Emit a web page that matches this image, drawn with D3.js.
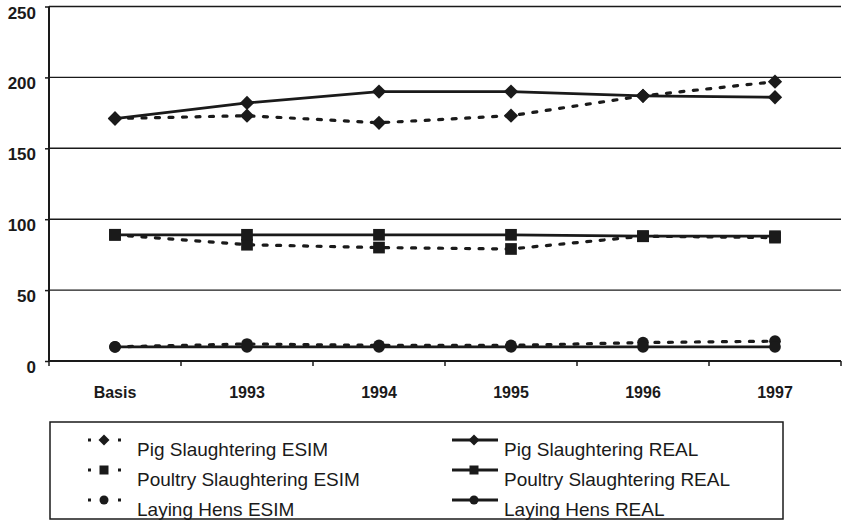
<!DOCTYPE html>
<html>
<head>
<meta charset="utf-8">
<script src="https://cdn.jsdelivr.net/npm/d3@7"></script>
<style>
  html, body { margin: 0; padding: 0; background: #fff; }
  svg { display: block; font-family: "Liberation Sans", Arial, Helvetica, sans-serif; }
</style>
</head>
<body>
<svg id="chart" width="843" height="523"></svg>
<script>
const categories = ["Basis", "1993", "1994", "1995", "1996", "1997"];
const pigESIM = [171, 173, 168, 173, 187, 197];
const pigREAL = [171, 182, 190, 190, 187, 186];
const poultryESIM = [89, 82, 80, 79, 88, 87];
const poultryREAL = [89, 89, 89, 89, 88, 88];
const layingESIM = [10, 12, 11, 11, 13, 14];
const layingREAL = [10, 10, 10, 10, 10, 10];
const yTicks = [0, 50, 100, 150, 200, 250];

const series = [
  { name: "Pig Slaughtering ESIM", values: pigESIM, marker: "diamond", dashed: true },
  { name: "Poultry Slaughtering ESIM", values: poultryESIM, marker: "square", dashed: true },
  { name: "Laying Hens ESIM", values: layingESIM, marker: "circle", dashed: true },
  { name: "Pig Slaughtering REAL", values: pigREAL, marker: "diamond", dashed: false },
  { name: "Poultry Slaughtering REAL", values: poultryREAL, marker: "square", dashed: false },
  { name: "Laying Hens REAL", values: layingREAL, marker: "circle", dashed: false }
];

const ink = "#1a1a1a";
const svg = d3.select("#chart");

const x = d3.scaleBand().domain(categories).range([49, 841]).paddingInner(0).paddingOuter(0);
const y = d3.scaleLinear().domain([0, 250]).range([361, 6.5]);
const cx = c => x(c) + x.bandwidth() / 2;

// gridlines
svg.append("g").selectAll("line").data(yTicks.filter(d => d > 0)).join("line")
  .attr("x1", 49).attr("x2", 841)
  .attr("y1", d => y(d)).attr("y2", d => y(d))
  .attr("stroke", ink).attr("stroke-width", 1.4);

// y axis
const yAxis = d3.axisLeft(y).tickValues(yTicks).tickSize(4).tickPadding(9).tickFormat(d3.format("d"));
const gy = svg.append("g").attr("transform", "translate(49,0)").call(yAxis);
gy.select(".domain").attr("stroke", ink).attr("stroke-width", 2).attr("d", `M0,${y(250)}V${y(0)}`);
gy.selectAll(".tick line").attr("stroke", ink).attr("stroke-width", 1.5);
gy.selectAll(".tick text").attr("fill", ink).attr("dy", "0.68em")
  .style("font-size", "17px").style("font-weight", "bold");

// x axis
const gx = svg.append("g").attr("transform", `translate(0,${y(0)})`);
gx.append("line").attr("x1", 49).attr("x2", 841).attr("y1", 0).attr("y2", 0)
  .attr("stroke", ink).attr("stroke-width", 2);
const boundaries = categories.map(c => x(c)).concat([x(categories[categories.length - 1]) + x.bandwidth()]);
gx.selectAll("line.tk").data(boundaries).join("line").attr("class", "tk")
  .attr("x1", d => d).attr("x2", d => d).attr("y1", 0).attr("y2", 5)
  .attr("stroke", ink).attr("stroke-width", 1.5);
gx.selectAll("text").data(categories).join("text")
  .attr("x", d => cx(d)).attr("y", 37)
  .attr("text-anchor", "middle").attr("fill", ink)
  .style("font-size", "16px").style("font-weight", "bold")
  .text(d => d);

function drawMarker(g, type, px, py, s) {
  if (type === "diamond") {
    g.append("path").attr("d", `M${px},${py - s * 0.55}L${px + s * 0.55},${py}L${px},${py + s * 0.55}L${px - s * 0.55},${py}Z`).attr("fill", ink);
  } else if (type === "square") {
    g.append("rect").attr("x", px - s * 0.45).attr("y", py - s * 0.45).attr("width", s * 0.9).attr("height", s * 0.9).attr("fill", ink);
  } else {
    g.append("circle").attr("cx", px).attr("cy", py).attr("r", s * 0.45).attr("fill", ink);
  }
}

const line = d3.line().x((d, i) => cx(categories[i])).y(d => y(d));

const plot = svg.append("g");
series.forEach(s => {
  plot.append("path").datum(s.values)
    .attr("d", line).attr("fill", "none").attr("stroke", ink)
    .attr("stroke-width", s.dashed ? 3.2 : 2.8)
    .attr("stroke-dasharray", s.dashed ? "4,9.5" : null)
    .attr("stroke-linecap", s.dashed ? "round" : "butt");
  const mg = plot.append("g");
  s.values.forEach((v, i) => drawMarker(mg, s.marker, cx(categories[i]), y(v), 13));
});

// legend
const lg = svg.append("g");
lg.append("rect").attr("x", 50).attr("y", 422).attr("width", 733).attr("height", 97)
  .attr("fill", "none").attr("stroke", ink).attr("stroke-width", 1.5);
const rowsY = [440, 470, 500];
series.forEach((s, k) => {
  const col = k < 3 ? 0 : 1;
  const row = k % 3;
  const sy = rowsY[row];
  const g = lg.append("g");
  if (col === 0) {
    g.append("line").attr("x1", 88).attr("x2", 121).attr("y1", sy).attr("y2", sy)
      .attr("stroke", ink).attr("stroke-width", 3).attr("stroke-dasharray", "3,27");
    drawMarker(g, s.marker, 104, sy, 10);
    g.append("text").attr("x", 137).attr("y", sy + 9).attr("dy", "0.35em")
      .attr("fill", ink).style("font-size", "19px").text(s.name);
  } else {
    g.append("line").attr("x1", 452).attr("x2", 498).attr("y1", sy).attr("y2", sy)
      .attr("stroke", ink).attr("stroke-width", 2.8);
    drawMarker(g, s.marker, 474, sy, 10);
    g.append("text").attr("x", 504).attr("y", sy + 9).attr("dy", "0.35em")
      .attr("fill", ink).style("font-size", "19px").text(s.name);
  }
});
</script>
</body>
</html>
